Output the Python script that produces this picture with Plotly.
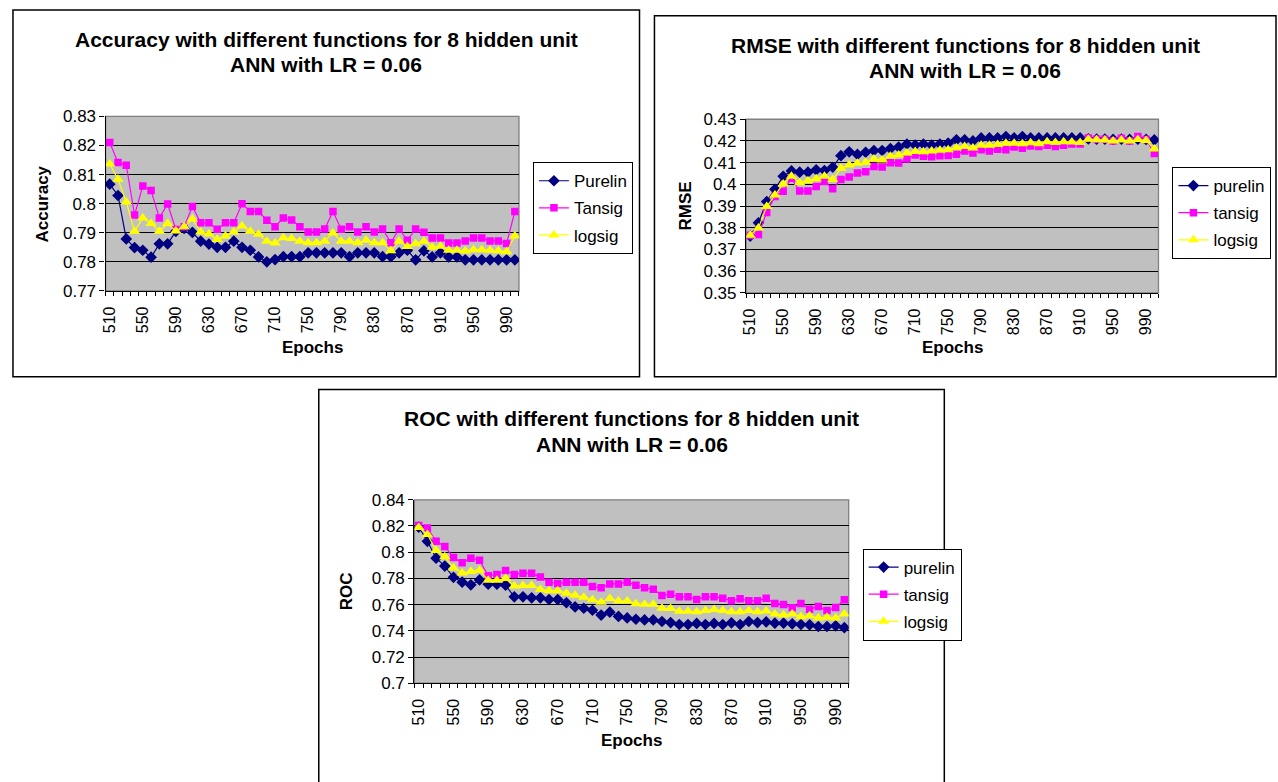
import plotly.graph_objects as go

# Epoch categories: 510 .. 1000 in steps of 10
epochs = list(range(510, 1001, 10))
tick_epochs = list(range(510, 991, 40))

# Accuracy series
acc_purelin = [0.8067, 0.8028, 0.7879, 0.7849, 0.7840, 0.7816, 0.7862, 0.7862, 0.7905, 0.7915,
               0.7901, 0.7871, 0.7861, 0.7850, 0.7850, 0.7871, 0.7850, 0.7840, 0.7817, 0.7800,
               0.7808, 0.7818, 0.7818, 0.7818, 0.7831, 0.7831, 0.7831, 0.7831, 0.7831, 0.7818,
               0.7831, 0.7831, 0.7831, 0.7818, 0.7818, 0.7831, 0.7840, 0.7807, 0.7838, 0.7817,
               0.7831, 0.7817, 0.7817, 0.7807, 0.7807, 0.7807, 0.7807, 0.7807, 0.7807, 0.7807]
acc_tansig = [0.8210, 0.8141, 0.8132, 0.7961, 0.8061, 0.8045, 0.7951, 0.7999, 0.7911, 0.7921,
              0.7990, 0.7934, 0.7934, 0.7912, 0.7934, 0.7934, 0.8000, 0.7973, 0.7973, 0.7943,
              0.7921, 0.7951, 0.7944, 0.7921, 0.7903, 0.7903, 0.7913, 0.7973, 0.7912, 0.7921,
              0.7903, 0.7921, 0.7903, 0.7913, 0.7866, 0.7913, 0.7874, 0.7913, 0.7902, 0.7882,
              0.7882, 0.7865, 0.7865, 0.7872, 0.7882, 0.7882, 0.7872, 0.7872, 0.7863, 0.7973]
acc_logsig = [0.8136, 0.8084, 0.8006, 0.7905, 0.7951, 0.7932, 0.7905, 0.7932, 0.7906, 0.7921,
              0.7947, 0.7903, 0.7896, 0.7877, 0.7889, 0.7903, 0.7923, 0.7905, 0.7895, 0.7871,
              0.7865, 0.7883, 0.7880, 0.7871, 0.7866, 0.7866, 0.7871, 0.7899, 0.7871, 0.7871,
              0.7866, 0.7874, 0.7866, 0.7866, 0.7838, 0.7871, 0.7853, 0.7862, 0.7871, 0.7850,
              0.7854, 0.7840, 0.7840, 0.7837, 0.7842, 0.7842, 0.7840, 0.7838, 0.7835, 0.7889]

# RMSE series
rmse_purelin = [0.3762, 0.3823, 0.3921, 0.3977, 0.4037, 0.4062, 0.4056, 0.4056, 0.4067, 0.4064,
                0.4079, 0.4132, 0.4150, 0.4138, 0.4148, 0.4156, 0.4156, 0.4165, 0.4172, 0.4186,
                0.4181, 0.4186, 0.4181, 0.4186, 0.4190, 0.4205, 0.4205, 0.4200, 0.4214, 0.4214,
                0.4214, 0.4220, 0.4214, 0.4220, 0.4214, 0.4214, 0.4214, 0.4214, 0.4214, 0.4214,
                0.4214, 0.4210, 0.4208, 0.4208, 0.4207, 0.4208, 0.4207, 0.4208, 0.4207, 0.4205]
rmse_tansig = [0.3766, 0.3769, 0.3871, 0.3944, 0.3968, 0.4028, 0.3969, 0.3969, 0.3990, 0.4013,
               0.3980, 0.4022, 0.4034, 0.4052, 0.4058, 0.4082, 0.4080, 0.4100, 0.4098, 0.4117,
               0.4135, 0.4130, 0.4127, 0.4132, 0.4133, 0.4139, 0.4154, 0.4145, 0.4159, 0.4154,
               0.4162, 0.4159, 0.4172, 0.4166, 0.4177, 0.4174, 0.4180, 0.4174, 0.4180, 0.4186,
               0.4186, 0.4214, 0.4208, 0.4208, 0.4200, 0.4213, 0.4200, 0.4220, 0.4207, 0.4142]
rmse_logsig = [0.3766, 0.3799, 0.3898, 0.3951, 0.4002, 0.4038, 0.4007, 0.4017, 0.4026, 0.4037,
               0.4022, 0.4074, 0.4089, 0.4097, 0.4102, 0.4117, 0.4112, 0.4130, 0.4135, 0.4145,
               0.4151, 0.4150, 0.4154, 0.4157, 0.4160, 0.4169, 0.4175, 0.4168, 0.4180, 0.4180,
               0.4184, 0.4190, 0.4189, 0.4187, 0.4192, 0.4187, 0.4196, 0.4193, 0.4196, 0.4195,
               0.4193, 0.4208, 0.4205, 0.4204, 0.4200, 0.4204, 0.4200, 0.4207, 0.4202, 0.4163]

# ROC series
roc_purelin = [0.8192, 0.8083, 0.7954, 0.7894, 0.7808, 0.7771, 0.7751, 0.7788, 0.7756, 0.7756,
               0.7748, 0.7659, 0.7659, 0.7652, 0.7652, 0.7639, 0.7639, 0.7614, 0.7582, 0.7572,
               0.7557, 0.7520, 0.7542, 0.7510, 0.7498, 0.7488, 0.7483, 0.7483, 0.7471, 0.7463,
               0.7448, 0.7448, 0.7456, 0.7448, 0.7456, 0.7448, 0.7461, 0.7448, 0.7471, 0.7463,
               0.7468, 0.7458, 0.7458, 0.7453, 0.7448, 0.7446, 0.7433, 0.7433, 0.7438, 0.7424]
roc_tansig = [0.8204, 0.8184, 0.8083, 0.8043, 0.7959, 0.7919, 0.7954, 0.7939, 0.7820, 0.7830,
              0.7860, 0.7830, 0.7840, 0.7840, 0.7810, 0.7771, 0.7761, 0.7771, 0.7771, 0.7771,
              0.7738, 0.7728, 0.7758, 0.7758, 0.7771, 0.7748, 0.7728, 0.7718, 0.7669, 0.7679,
              0.7659, 0.7659, 0.7639, 0.7659, 0.7659, 0.7649, 0.7629, 0.7644, 0.7629, 0.7629,
              0.7649, 0.7609, 0.7600, 0.7575, 0.7609, 0.7565, 0.7585, 0.7555, 0.7577, 0.7637]
roc_logsig = [0.8189, 0.8135, 0.8013, 0.7966, 0.7880, 0.7842, 0.7852, 0.7862, 0.7785, 0.7785,
              0.7800, 0.7741, 0.7746, 0.7746, 0.7716, 0.7706, 0.7706, 0.7686, 0.7671, 0.7656,
              0.7637, 0.7617, 0.7647, 0.7627, 0.7627, 0.7607, 0.7602, 0.7602, 0.7572, 0.7570,
              0.7550, 0.7550, 0.7545, 0.7555, 0.7562, 0.7555, 0.7545, 0.7545, 0.7555, 0.7545,
              0.7552, 0.7528, 0.7520, 0.7528, 0.7508, 0.7515, 0.7498, 0.7503, 0.7498, 0.7528]

W, H = 1278, 782
FONT = "Liberation Sans, Arial, sans-serif"


def px(x):
    return x / W


def py(y):
    return 1 - y / H


STYLE = [
    dict(color="#000080", symbol="diamond", size=9),
    dict(color="#FF00FF", symbol="square", size=7.5),
    dict(color="#FFFF00", symbol="triangle-up", size=10),
]

charts = [
    dict(title="Accuracy", ylabel="Accuracy", names=["Purelin", "Tansig", "logsig"],
         series=[acc_purelin, acc_tansig, acc_logsig], yr=[0.77, 0.83], dt=0.01,
         frame=(8, 1, 637, 377), plot=(101, 110, 516, 289), legend=(530, 157),
         ytitle_x=38, xtitle_y=347),
    dict(title="RMSE", ylabel="RMSE", names=["purelin", "tansig", "logsig"],
         series=[rmse_purelin, rmse_tansig, rmse_logsig], yr=[0.35, 0.43], dt=0.01,
         frame=(652, 7, 1276, 377), plot=(744, 113, 1158, 291), legend=(1172, 162),
         ytitle_x=683, xtitle_y=347),
    dict(title="ROC", ylabel="ROC", names=["purelin", "tansig", "logsig"],
         series=[roc_purelin, roc_tansig, roc_logsig], yr=[0.70, 0.84], dt=0.02,
         frame=(315, 390, 943, 800), plot=(411, 503, 847, 691), legend=(861, 553),
         ytitle_x=343, xtitle_y=750),
]

fig = go.Figure()
shapes = []
annotations = []
layout = {}

for i, c in enumerate(charts, start=1):
    sfx = "" if i == 1 else str(i)
    xa, ya = "x" + sfx, "y" + sfx
    leg = "legend" + sfx
    for name, vals, st in zip(c["names"], c["series"], STYLE):
        fig.add_trace(go.Scatter(
            x=epochs, y=vals, name=name, mode="lines+markers",
            xaxis=xa, yaxis=ya, legend=leg, legendgroup=f"{i}{name}",
            line=dict(color=st["color"], width=1.2),
            marker=dict(color=st["color"], symbol=st["symbol"], size=st["size"],
                        line=dict(width=0)),
        ))
    fx0, fy0, fx1, fy1 = c["frame"]
    shapes.append(dict(type="rect", xref="paper", yref="paper",
                       x0=px(fx0), x1=px(fx1), y0=py(fy1), y1=py(fy0),
                       line=dict(color="black", width=1.5), fillcolor="white", layer="below"))
    x0, y0, x1, y1 = c["plot"]
    shapes.append(dict(type="rect", xref=xa + " domain", yref=ya + " domain",
                       x0=0, x1=1, y0=0, y1=1, line=dict(color="#808080", width=1.3),
                       fillcolor="#C0C0C0", layer="below"))
    layout["xaxis" + sfx] = dict(
        domain=[px(x0), px(x1)], anchor=ya, range=[505, 1005],
        tickmode="array", tickvals=tick_epochs, ticktext=[str(e) for e in tick_epochs],
        tickangle=-90, ticks="", ticklabelstandoff=8,
        minor=dict(tickmode="linear", tick0=505, dtick=10, ticks="outside", ticklen=4,
                   tickcolor="black", showgrid=False),
        showline=True, linecolor="black", linewidth=1.3, showgrid=False, zeroline=False,
        tickfont=dict(family=FONT, size=16, color="black"),
    )
    layout["yaxis" + sfx] = dict(
        domain=[py(y1), py(y0)], anchor=xa, range=c["yr"], dtick=c["dt"], tick0=0,
        ticks="outside", ticklen=5, tickcolor="black",
        showline=True, linecolor="black", linewidth=1.3,
        showgrid=True, gridcolor="black", gridwidth=1, zeroline=False,
        tickfont=dict(family=FONT, size=17, color="black"),
    )
    lx, ly = c["legend"]
    layout[leg] = dict(x=px(lx), y=py(ly), xanchor="left", yanchor="top",
                       bgcolor="white", bordercolor="black", borderwidth=1,
                       font=dict(family=FONT, size=17, color="black"),
                       tracegroupgap=2)
    cx = (fx0 + fx1) / 2
    annotations += [
        dict(text=f"<b>{c['title']} with different functions for 8 hidden unit</b>",
             x=px(cx), y=py(fy0 + 30), xref="paper", yref="paper", showarrow=False,
             xanchor="center", yanchor="middle", font=dict(family=FONT, size=21, color="black")),
        dict(text="<b>ANN with LR = 0.06</b>",
             x=px(cx), y=py(fy0 + 56), xref="paper", yref="paper", showarrow=False,
             xanchor="center", yanchor="middle", font=dict(family=FONT, size=21, color="black")),
        dict(text=f"<b>{c['ylabel']}</b>", x=px(c["ytitle_x"]), y=py((y0 + y1) / 2),
             xref="paper", yref="paper", showarrow=False, textangle=-90,
             xanchor="center", yanchor="middle", font=dict(family=FONT, size=17, color="black")),
        dict(text="<b>Epochs</b>", x=px((x0 + x1) / 2), y=py(c["xtitle_y"]),
             xref="paper", yref="paper", showarrow=False,
             xanchor="center", yanchor="middle", font=dict(family=FONT, size=17, color="black")),
    ]

fig.update_layout(
    width=W, height=H, margin=dict(l=0, r=0, t=0, b=0),
    paper_bgcolor="white", plot_bgcolor="rgba(0,0,0,0)",
    shapes=shapes, annotations=annotations, **layout,
)
fig.write_html("out.html", include_plotlyjs=True, full_html=True,
               config={"displayModeBar": False})
